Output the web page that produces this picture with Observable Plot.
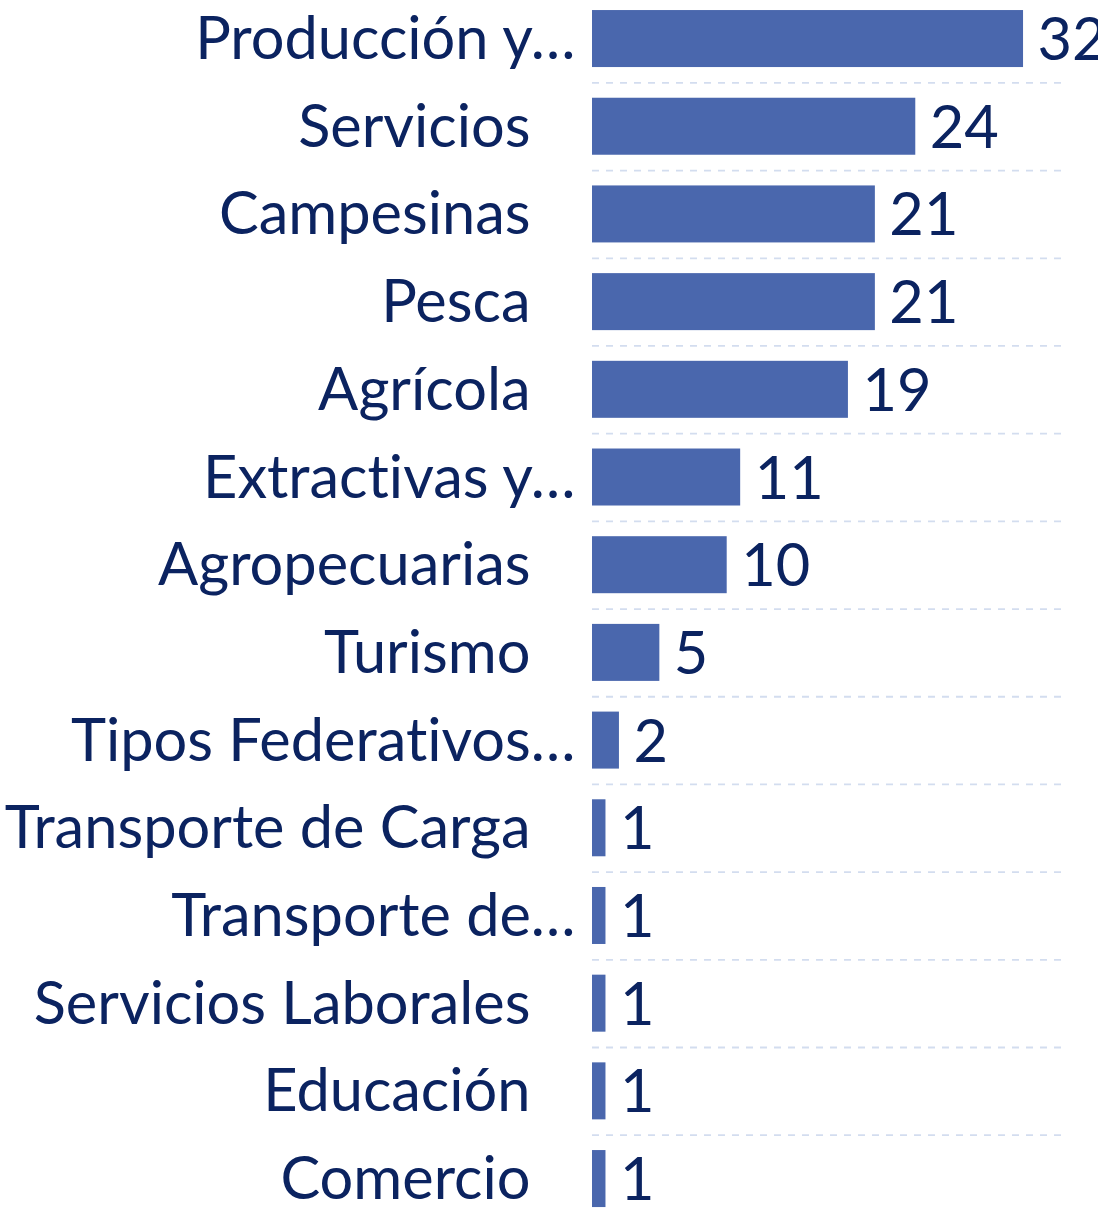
<!DOCTYPE html>
<html>
<head>
<meta charset="utf-8">
<script src="https://cdn.jsdelivr.net/npm/d3@7"></script>
<script src="https://cdn.jsdelivr.net/npm/@observablehq/plot@0.6"></script>
<style>
  html, body { margin: 0; padding: 0; background: #fff; }
  #chart svg { display: block; font-variant-ligatures: none; }
</style>
</head>
<body>
<div id="chart"></div>
<script>
const categories = [
  "Producción y…",
  "Servicios",
  "Campesinas",
  "Pesca",
  "Agrícola",
  "Extractivas y…",
  "Agropecuarias",
  "Turismo",
  "Tipos Federativos…",
  "Transporte de Carga",
  "Transporte de…",
  "Servicios Laborales",
  "Educación",
  "Comercio"
];
const values = [32, 24, 21, 21, 19, 11, 10, 5, 2, 1, 1, 1, 1, 1];

const data = categories.map((c, i) => ({cat: c, value: values[i]}));
const truncated = data.filter(d => d.cat.endsWith("…"));
const full = data.filter(d => !d.cat.endsWith("…"));

const W = 1098, H = 1212;
const yRange = [-5.3, 1222.4];
const step = (yRange[1] - yRange[0]) / categories.length;
const textColor = "#0b2360";
const font = "Lato, 'Open Sans', sans-serif";
const fs = 59.5;

const chart = Plot.plot({
  width: W,
  height: H,
  margin: 0,
  style: {fontFamily: font, background: "#fff", overflow: "hidden", fontVariantLigatures: "none"},
  x: {domain: [0, 35], range: [592, 592 + 35 * 13.47], axis: null},
  y: {domain: categories, range: yRange, paddingInner: 0.35, paddingOuter: 0.175, round: false, axis: null},
  marks: [
    Plot.ruleY(categories.slice(0, -1), {
      y: d => d, x1: 0, x2: 35, dy: step / 2,
      stroke: "#d3ddef", strokeWidth: 1.8, strokeDasharray: "7,7"
    }),
    Plot.barX(data, {x: "value", y: "cat", fill: "#4a67ad"}),
    Plot.ruleX([0], {y1: null, stroke: "#d9d9d9", strokeWidth: 2, dx: -1}),
    Plot.text(full, {
      x: 0, y: "cat", text: "cat", textAnchor: "end", dx: -62, dy: 1,
      fill: textColor, fontSize: fs
    }),
    Plot.text(truncated, {
      x: 0, y: "cat", text: "cat", textAnchor: "end", dx: -17, dy: 1,
      fill: textColor, fontSize: fs
    }),
    Plot.text(data, {
      x: "value", y: "cat", text: d => String(d.value), textAnchor: "start", dx: 14, dy: 2,
      fill: textColor, fontSize: fs
    })
  ]
});
document.getElementById("chart").appendChild(chart);
</script>
</body>
</html>
